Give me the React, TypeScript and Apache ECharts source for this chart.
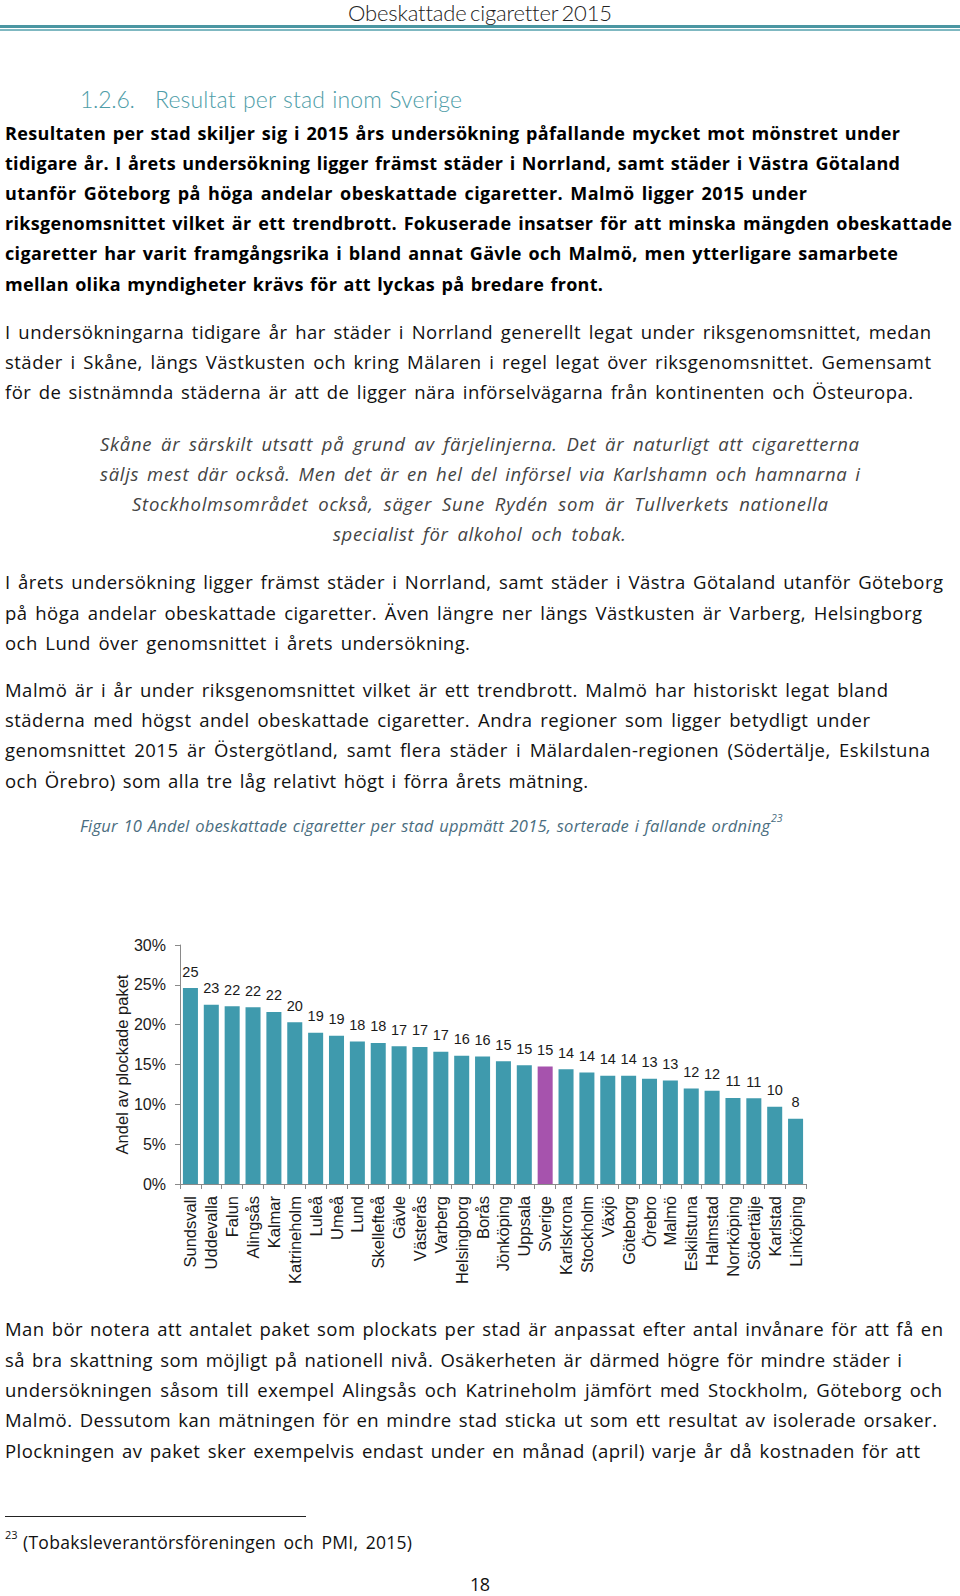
import React, { useEffect, useLayoutEffect, useRef } from "react";
import * as echarts from "echarts";

// ---------- chart data ----------
const cities = [
  "Sundsvall", "Uddevalla", "Falun", "Alingsås", "Kalmar", "Katrineholm", "Luleå", "Umeå",
  "Lund", "Skellefteå", "Gävle", "Västerås", "Varberg", "Helsingborg", "Borås", "Jönköping",
  "Uppsala", "Sverige", "Karlskrona", "Stockholm", "Växjö", "Göteborg", "Örebro", "Malmö",
  "Eskilstuna", "Halmstad", "Norrköping", "Södertälje", "Karlstad", "Linköping",
];
const shares = [
  24.6, 22.5, 22.3, 22.2, 21.6, 20.3, 19.0, 18.6, 17.9, 17.7, 17.3, 17.2, 16.6, 16.1, 16.0, 15.4,
  14.9, 14.75, 14.4, 14.0, 13.6, 13.6, 13.2, 13.0, 12.0, 11.7, 10.8, 10.75, 9.7, 8.2,
];
const highlighted = "Sverige";
const yTicks = { min: 0, max: 30, interval: 5 };
const yAxisTitle = "Andel av plockade paket";

// ---------- page text ----------
const headerText = "Obeskattade cigaretter 2015";
const headingNum = "1.2.6.";
const headingText = "Resultat per stad inom Sverige";

type L = [string, number, number, number]; // text, left, centerY, right
const boldLines: L[] = [
  ["Resultaten per stad skiljer sig i 2015 års undersökning påfallande mycket mot mönstret under", 5, 132.5, 900],
  ["tidigare år. I årets undersökning ligger främst städer i Norrland, samt städer i Västra Götaland", 5, 162.5, 900],
  ["utanför Göteborg på höga andelar obeskattade cigaretter. Malmö ligger 2015 under", 5, 192.5, 807],
  ["riksgenomsnittet vilket är ett trendbrott. Fokuserade insatser för att minska mängden obeskattade", 5, 223, 952],
  ["cigaretter har varit framgångsrika i bland annat Gävle och Malmö, men ytterligare samarbete", 5, 253, 898],
  ["mellan olika myndigheter krävs för att lyckas på bredare front.", 5, 283.5, 603],
];
const bodyLines: L[] = [
  ["I undersökningarna tidigare år har städer i Norrland generellt legat under riksgenomsnittet, medan", 5, 331.5, 931],
  ["städer i Skåne, längs Västkusten och kring Mälaren i regel legat över riksgenomsnittet. Gemensamt", 5, 361.5, 931],
  ["för de sistnämnda städerna är att de ligger nära införselvägarna från kontinenten och Östeuropa.", 5, 391.5, 913],
  ["I årets undersökning ligger främst städer i Norrland, samt städer i Västra Götaland utanför Göteborg", 5, 582, 943],
  ["på höga andelar obeskattade cigaretter. Även längre ner längs Västkusten är Varberg, Helsingborg", 5, 612.5, 922],
  ["och Lund över genomsnittet i årets undersökning.", 5, 642.5, 470],
  ["Malmö är i år under riksgenomsnittet vilket är ett trendbrott. Malmö har historiskt legat bland", 5, 689.5, 888],
  ["städerna med högst andel obeskattade cigaretter. Andra regioner som ligger betydligt under", 5, 720, 870],
  ["genomsnittet 2015 är Östergötland, samt flera städer i Mälardalen-regionen (Södertälje, Eskilstuna", 5, 750, 930],
  ["och Örebro) som alla tre låg relativt högt i förra årets mätning.", 5, 780.5, 588],
  ["Man bör notera att antalet paket som plockats per stad är anpassat efter antal invånare för att få en", 5, 1329, 943],
  ["så bra skattning som möjligt på nationell nivå. Osäkerheten är därmed högre för mindre städer i", 5, 1359.5, 902],
  ["undersökningen såsom till exempel Alingsås och Katrineholm jämfört med Stockholm, Göteborg och", 5, 1390, 942],
  ["Malmö. Dessutom kan mätningen för en mindre stad sticka ut som ett resultat av isolerade orsaker.", 5, 1420, 937],
  ["Plockningen av paket sker exempelvis endast under en månad (april) varje år då kostnaden för att", 5, 1450.5, 920],
];
const quoteLines: L[] = [
  ["Skåne är särskilt utsatt på grund av färjelinjerna. Det är naturligt att cigaretterna", 100, 444, 859],
  ["säljs mest där också. Men det är en hel del införsel via Karlshamn och hamnarna i", 100, 474, 860],
  ["Stockholmsområdet också, säger Sune Rydén som är Tullverkets nationella", 132, 504, 828],
  ["specialist för alkohol och tobak.", 333, 534, 626],
];
const captionText = "Figur 10 Andel obeskattade cigaretter per stad uppmätt 2015, sorterade i fallande ordning";
const footRef = "23";
const footnoteText = "(Tobaksleverantörsföreningen och PMI, 2015)";
const pageNumber = "18";

const BODY = "'Open Sans', Lato, sans-serif";
const LIGHT = "Lato, 'Open Sans', sans-serif";

function FitLine(props: {
  text: string; left: number; cy: number; right: number; lh?: number; style?: React.CSSProperties;
}) {
  const { text, left, cy, right, style } = props;
  const lh = props.lh ?? 26;
  const ref = useRef<HTMLSpanElement>(null);
  useLayoutEffect(() => {
    const el = ref.current;
    if (!el) return;
    const fit = () => {
      el.style.letterSpacing = "0px";
      el.style.wordSpacing = "0px";
      const target = right - left;
      const nat = el.getBoundingClientRect().width;
      const chars = Array.from(text);
      const n = chars.length;
      const spaces = chars.filter((c) => c === " ").length;
      const extra = target - nat;
      const share = spaces > 0 ? 0.6 : 1;
      const ls = (extra * share) / Math.max(1, n - 1);
      el.style.letterSpacing = ls + "px";
      if (spaces > 0) {
        const w2 = el.getBoundingClientRect().width - ls; // trailing spacing excluded
        el.style.wordSpacing = (target - w2) / spaces + "px";
      }
    };
    fit();
    const f = (document as any).fonts;
    if (f && f.ready) f.ready.then(fit);
  }, [text, left, right]);
  return (
    <span
      ref={ref}
      style={{
        position: "absolute",
        left,
        top: cy - lh / 2,
        height: lh,
        lineHeight: lh + "px",
        whiteSpace: "nowrap",
        fontFamily: BODY,
        color: "#111",
        fontSize: 18.5,
        ...style,
      }}
    >
      {text}
    </span>
  );
}

function Chart() {
  const ref = useRef<HTMLDivElement>(null);
  useEffect(() => {
    if (!ref.current) return;
    const chart = echarts.init(ref.current, undefined, { renderer: "svg" });
    const teal = "#3f9aad";
    const purple = "#a653ad";
    const textColor = "#1a1a1a";
    const ff = "'Liberation Sans', Arial, Helvetica, sans-serif";
    chart.setOption({
      animation: false,
      grid: {
        left: 180, right: 154, top: 45, bottom: 136,
        containLabel: false, outerBoundsMode: "none",
      },
      xAxis: {
        type: "category",
        data: cities,
        axisLine: { show: true, lineStyle: { color: "#8a8a8a", width: 1 } },
        axisTick: { show: true, alignWithLabel: false, length: 5, lineStyle: { color: "#8a8a8a" } },
        axisLabel: {
          interval: 0,
          rotate: 90,
          margin: 12,
          color: textColor,
          fontSize: 16.5,
          fontFamily: ff,
        },
      },
      yAxis: {
        type: "value",
        min: yTicks.min,
        max: yTicks.max,
        interval: yTicks.interval,
        name: yAxisTitle,
        nameLocation: "middle",
        nameRotate: 90,
        nameGap: 50,
        nameMoveOverlap: false,
        nameTextStyle: { color: textColor, fontSize: 16.5, fontFamily: ff },
        axisLine: { show: true, lineStyle: { color: "#8a8a8a", width: 1 } },
        axisTick: { show: true, length: 5, lineStyle: { color: "#8a8a8a" } },
        splitLine: { show: false },
        axisLabel: {
          formatter: "{value}%",
          margin: 14,
          color: textColor,
          fontSize: 16,
          fontFamily: ff,
        },
      },
      series: [
        {
          type: "bar",
          barWidth: "72%",
          data: cities.map((c, i) => ({
            value: shares[i],
            itemStyle: { color: c === highlighted ? purple : teal },
          })),
          label: {
            show: true,
            position: "top",
            distance: 9,
            color: textColor,
            fontSize: 14.5,
            fontFamily: ff,
            formatter: (p: any) => String(Math.round(p.value)),
          },
        },
      ],
    });
    return () => chart.dispose();
  }, []);
  return (
    <div
      ref={ref}
      style={{ position: "absolute", left: 0, top: 900, width: 960, height: 420 }}
    />
  );
}

export default function App() {
  return (
    <div
      style={{
        position: "absolute",
        left: 0,
        top: 0,
        width: 960,
        height: 1596,
        background: "#fff",
        overflow: "hidden",
        fontFamily: BODY,
      }}
    >
      {/* running header */}
      <FitLine text={headerText} left={348} cy={12.5} right={612} lh={19}
        style={{ fontFamily: LIGHT, fontSize: 22, fontWeight: 300, color: "#222" }} />
      <div style={{ position: "absolute", left: 0, top: 25, width: 960, height: 3, background: "#4a96a2" }} />
      <div style={{ position: "absolute", left: 0, top: 29, width: 960, height: 2, background: "#7fb8c1" }} />

      {/* heading */}
      <FitLine text={headingNum} left={80} cy={99} right={135} lh={30}
        style={{ fontFamily: LIGHT, fontSize: 23, fontWeight: 300, color: "#4e9da8" }} />
      <FitLine text={headingText} left={155} cy={99} right={462} lh={30}
        style={{ fontFamily: LIGHT, fontSize: 23, fontWeight: 300, color: "#4e9da8" }} />

      {boldLines.map(([t, l, y, r], i) => (
        <FitLine key={"b" + i} text={t} left={l} cy={y} right={r} style={{ fontWeight: 700, color: "#000", fontSize: 18 }} />
      ))}
      {bodyLines.map(([t, l, y, r], i) => (
        <FitLine key={"p" + i} text={t} left={l} cy={y} right={r} />
      ))}
      {quoteLines.map(([t, l, y, r], i) => (
        <FitLine key={"q" + i} text={t} left={l} cy={y} right={r}
          style={{ fontStyle: "italic", color: "#444" }} />
      ))}

      {/* figure caption */}
      <FitLine text={captionText} left={80} cy={826} right={770} lh={22}
        style={{ fontStyle: "italic", fontSize: 16.5, color: "#4a6d80" }} />
      <span style={{ position: "absolute", left: 771, top: 812, fontFamily: BODY, fontStyle: "italic", fontSize: 10.5, color: "#4a6d80", lineHeight: "12px" }}>
        {footRef}
      </span>

      <Chart />

      {/* footnote */}
      <div style={{ position: "absolute", left: 5, top: 1516, width: 301, height: 1, background: "#222" }} />
      <span style={{ position: "absolute", left: 5, top: 1529, fontFamily: BODY, fontSize: 11, color: "#111", lineHeight: "12px" }}>
        {footRef}
      </span>
      <FitLine text={footnoteText} left={23} cy={1542} right={412} lh={22} style={{ fontSize: 17.5 }} />

      <FitLine text={pageNumber} left={470} cy={1584} right={490} lh={18} style={{ fontSize: 18 }} />
    </div>
  );
}
